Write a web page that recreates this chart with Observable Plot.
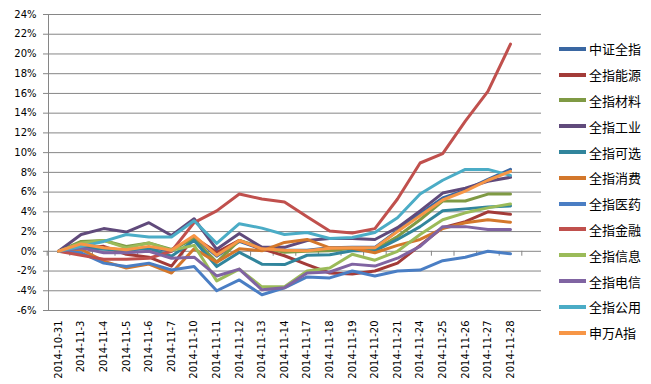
<!DOCTYPE html>
<html>
<head>
<meta charset="utf-8">
<script src="https://cdn.jsdelivr.net/npm/d3@7"></script>
<script src="https://cdn.jsdelivr.net/npm/@observablehq/plot@0.6"></script>
<style>
  html, body { margin: 0; padding: 0; background: #fff; }
  #wrap { position: relative; width: 651px; height: 384px; }
  #legend { position: absolute; left: 559px; top: 36px; font-family: "Noto Sans CJK SC", sans-serif; font-size: 13px; color: #000; }
  .item { height: 25.8px; display: flex; align-items: center; }
  .sw { width: 27px; height: 4px; margin-right: 3px; }
</style>
</head>
<body>
<div id="wrap"><div id="legend"></div></div>
<script>
const dates = ["2014-10-31","2014-11-3","2014-11-4","2014-11-5","2014-11-6","2014-11-7","2014-11-10","2014-11-11","2014-11-12","2014-11-13","2014-11-14","2014-11-17","2014-11-18","2014-11-19","2014-11-20","2014-11-21","2014-11-24","2014-11-25","2014-11-26","2014-11-27","2014-11-28"];
const seriesNames = ["中证全指","全指能源","全指材料","全指工业","全指可选","全指消费","全指医药","全指金融","全指信息","全指电信","全指公用","申万A指"];
const seriesColors = ["#3A67A2","#A33B38","#7F9A44","#604A7B","#31859C","#D3772B","#4A7EC4","#C0504D","#9BBB59","#8064A2","#4BACC6","#F79646"];
const yTicks = [-6,-4,-2,0,2,4,6,8,10,12,14,16,18,20,22,24];

const zhongzheng = [0,0.6,0.3,0.1,0.4,0.0,1.5,-0.5,1.0,0.2,0.1,0.1,0.35,0.4,0.4,2.1,3.8,5.4,6.2,7.3,8.3];
const nengyuan   = [0,0.3,0.5,-0.3,-0.6,-1.5,1.4,-0.1,1.1,0.25,-0.45,-1.35,-2.2,-2.3,-2.0,-1.2,0.6,2.4,3.0,4.0,3.75];
const cailiao    = [0,1.0,1.1,0.5,0.85,0.2,1.25,-1.1,1.1,0.4,-0.1,0.0,0.05,0.3,0.15,1.5,3.2,5.1,5.1,5.8,5.8];
const gongye     = [0,1.7,2.3,1.95,2.9,1.6,3.3,0.2,1.8,0.4,0.4,1.1,1.3,1.3,1.2,2.4,4.1,5.9,6.4,7.1,7.5];
const kexuan     = [0,0.3,0.2,0.1,0.3,-0.5,1.1,-1.55,-0.1,-1.3,-1.35,-0.4,-0.35,0.05,0.05,1.2,2.5,4.1,4.3,4.5,4.6];
const xiaofei    = [0,0.2,-1.0,-1.7,-1.3,-2.2,0.25,-1.1,0.25,0.05,0.9,1.2,0.35,0.3,-0.15,0.6,1.2,2.3,2.9,3.2,2.95];
const yiyao      = [0,-0.15,-1.2,-1.55,-1.2,-1.9,-1.55,-4.0,-2.9,-4.4,-3.7,-2.6,-2.7,-2.0,-2.5,-2.0,-1.9,-0.95,-0.6,0.0,-0.25];
const jinrong    = [0,-0.4,-0.8,-0.8,-0.7,0.0,2.9,4.1,5.8,5.3,5.0,3.5,2.05,1.85,2.3,5.3,8.95,9.9,13.2,16.2,21.0];
const xinxi      = [0,0.85,1.1,0.35,0.85,0.1,0.6,-3.0,-1.8,-3.6,-3.6,-2.0,-1.7,-0.3,-0.9,0.0,1.7,3.2,3.9,4.4,4.8];
const dianxin    = [0,0.35,-0.15,-0.15,0.0,-0.7,-0.6,-2.5,-1.8,-3.9,-3.7,-2.2,-2.1,-1.3,-1.5,-0.7,0.5,2.5,2.5,2.2,2.2];
const gongyong   = [0,0.5,1.0,1.7,1.45,1.45,3.1,0.8,2.8,2.35,1.7,1.9,1.3,1.4,1.9,3.4,5.8,7.2,8.3,8.3,7.7];
const shenwan    = [0,0.75,0.35,0.15,0.5,0.1,1.6,-0.4,1.1,0.25,0.1,0.05,0.3,0.35,0.35,2.0,3.6,5.2,6.1,7.2,8.1];

const seriesValues = [zhongzheng,nengyuan,cailiao,gongye,kexuan,xiaofei,yiyao,jinrong,xinxi,dianxin,gongyong,shenwan];

const rows = [];
seriesNames.forEach((name, s) => {
  seriesValues[s].forEach((v, i) => rows.push({series: name, date: dates[i], value: v}));
});

const xRange = [58, 510];
const step = (xRange[1] - xRange[0]) / (dates.length - 1);
const grey = "#868686";

const chart = Plot.plot({
  width: 651,
  height: 384,
  marginLeft: 48,
  marginRight: 110,
  marginTop: 14,
  marginBottom: 74,
  style: {fontFamily: "'DejaVu Sans', Verdana, sans-serif", fontSize: "10px", color: "#000", background: "#fff"},
  x: {type: "point", domain: dates, range: xRange, padding: 0, round: false, label: null},
  y: {domain: [-6, 24], label: null},
  color: {domain: seriesNames, range: seriesColors},
  marks: [
    Plot.ruleY(yTicks, {stroke: grey, strokeWidth: 1}),
    Plot.frame({anchor: "left", stroke: grey}),
    Plot.ruleX(dates, {x: d => d, y1: 0, y2: -0.5, dx: -step / 2, stroke: grey}),
    Plot.ruleX(dates.slice(-1), {x: d => d, y1: 0, y2: -0.5, dx: step / 2, stroke: grey}),
    Plot.axisY({ticks: yTicks, tickFormat: d => d + "%", tickSize: 5, tickPadding: 7, stroke: grey, fontSize: 10, label: null}),
    Plot.axisX({tickSize: 0, tickRotate: -90, tickPadding: 10, fontSize: 10, label: null}),
    Plot.line(rows, {x: "date", y: "value", z: "series", stroke: "series", strokeWidth: 3, strokeLinejoin: "round", strokeLinecap: "round"})
  ]
});

const wrap = document.getElementById("wrap");
wrap.insertBefore(chart, wrap.firstChild);

const legend = document.getElementById("legend");
seriesNames.forEach((name, s) => {
  const item = document.createElement("div");
  item.className = "item";
  const sw = document.createElement("span");
  sw.className = "sw";
  sw.style.background = seriesColors[s];
  const label = document.createElement("span");
  label.textContent = name;
  item.appendChild(sw);
  item.appendChild(label);
  legend.appendChild(item);
});
</script>
</body>
</html>
